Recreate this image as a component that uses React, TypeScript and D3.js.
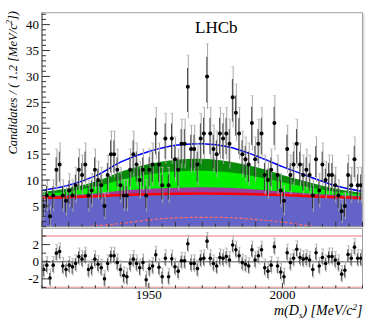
import React, { useEffect, useRef } from 'react'
import * as d3 from 'd3'

// m(Ds) histogram, 1.2 MeV bins from 1910 to 2030
const massRange = [1910, 2030]
const binWidth = 1.2
const counts = [
  5, 7, 3, 7, 12, 13, 7, 6, 8, 7,
  9, 12, 11, 13, 7, 8, 12, 10, 9, 5,
  11, 15, 15, 12, 9, 7, 7, 12, 15, 13,
  10, 12, 7, 12, 13, 19, 13, 9, 18, 9,
  18, 14, 12, 17, 17, 28, 16, 16, 13, 18,
  19, 30, 19, 16, 15, 19, 18, 19, 17, 26,
  23, 19, 15, 14, 13, 21, 14, 17, 19, 11,
  10, 12, 21, 11, 8, 6, 16, 11, 13, 17,
  13, 11, 12, 11, 7, 14, 8, 13, 10, 11,
  11, 9, 7, 4, 5, 11, 9, 14, 9, 9
]
const pulls = [
  -0.9, -0.4, -1.9, -0.4, 1.0, 1.2, -0.5, -0.9, -0.4, -0.6,
  -0.2, 0.6, 0.3, 0.7, -0.9, -0.7, 0.3, -0.3, -0.7, -2.0,
  -0.2, 0.7, 0.7, -0.1, -0.9, -1.6, -1.75, -0.2, 0.3, -0.2,
  -0.7, -0.1, -2.1, -0.8, -0.5, 0.8, -0.65, -1.75, 0.4, -1.75,
  0.35, -0.6, -1.1, 0.1, 0.1, 2.1, -0.2, -0.2, -0.8, 0.3,
  0.4, 2.4, 0.4, -0.2, -0.5, 0.5, 0.4, 0.6, 0.2, 1.95,
  1.4, 0.7, -0.1, -0.3, -0.5, 1.4, 0.2, 0.7, 1.4, -0.7,
  -1.1, -0.4, 1.75, -0.5, -1.2, -1.75, 1.05, -0.1, 0.4, 1.45,
  0.5, 0.3, 0.4, 0.2, -0.9, 1.05, -0.5, 0.5, -0.2, 0.6,
  0.6, 0.2, -0.2, -1.45, -1.0, 0.85, 0.4, 1.7, 0.4, 0.4
]

// fit components read at every 10 MeV
const curveMass = [1910, 1920, 1930, 1940, 1950, 1960, 1970, 1980, 1990, 2000, 2010, 2020, 2030]
const totalFit = [8.0, 9.0, 10.8, 13.6, 15.5, 16.7, 17.0, 16.4, 14.7, 12.6, 10.7, 8.9, 7.8]
const darkGreenTop = [7.7, 8.4, 9.7, 11.7, 13.1, 13.9, 14.1, 13.6, 12.5, 11.0, 9.6, 8.3, 7.5]
const lightGreenTop = [7.3, 7.8, 8.7, 10.1, 11.1, 11.7, 11.8, 11.5, 10.7, 9.6, 8.6, 7.7, 7.2]
const purpleTop = [6.9, 7.1, 7.4, 8.0, 8.3, 8.5, 8.6, 8.5, 8.2, 7.8, 7.4, 7.1, 6.9]
const redTop = [6.6, 6.7, 6.9, 7.1, 7.25, 7.35, 7.4, 7.35, 7.25, 7.1, 6.9, 6.7, 6.5]
const dashMass = [1915, 1920, 1930, 1940, 1950, 1960, 1970, 1980, 1990, 2000, 2010, 2020, 2025]
const dashFit = [0.3, 0.6, 1.15, 1.65, 2.3, 2.7, 2.8, 2.75, 2.4, 1.9, 1.15, 0.5, 0.2]

const yTicks = [5, 10, 15, 20, 25, 30, 35, 40]
const pullTicks = [-2, 0, 2]
const xTickLabels = [1950, 2000]

const serif = "'Liberation Serif', 'Times New Roman', serif"

export default function App() {
  const ref = useRef<SVGSVGElement>(null)

  useEffect(() => {
    const svg = d3.select(ref.current)
    svg.selectAll('*').remove()

    const left = 42, right = 362.5
    const top = 12.7, mainBottom = 226.7
    const pullTop = 228.3, pullBottom = 288.3

    const x = d3.scaleLinear().domain(massRange).range([left, right])
    const y = d3.scaleLinear().domain([1.0, 42.3]).range([mainBottom, top])
    const yp = d3.scaleLinear().domain([-3.1, 3.9]).range([pullBottom, pullTop])

    const defs = svg.append('defs')
    defs.append('clipPath').attr('id', 'clipMain')
      .append('rect').attr('x', left).attr('y', top)
      .attr('width', right - left).attr('height', mainBottom - top)
    defs.append('clipPath').attr('id', 'clipPull')
      .append('rect').attr('x', left).attr('y', pullTop)
      .attr('width', right - left).attr('height', pullBottom - pullTop)

    const main = svg.append('g').attr('clip-path', 'url(#clipMain)')

    const area = (tops: number[]) => d3.area<number>()
      .x((d, i) => x(curveMass[i]))
      .y0(y(0))
      .y1(d => y(d))
      .curve(d3.curveCatmullRom)(tops)
    const line = (mass: number[], vals: number[]) => d3.line<number>()
      .x((d, i) => x(mass[i]))
      .y(d => y(d))
      .curve(d3.curveCatmullRom)(vals)

    main.append('path').attr('d', area(darkGreenTop)).attr('fill', '#0a8a0a')
    main.append('path').attr('d', area(lightGreenTop)).attr('fill', '#00f000')
    main.append('path').attr('d', area(purpleTop)).attr('fill', '#9c3c9c')
    main.append('path').attr('d', area(redTop)).attr('fill', '#6464c8')
    main.append('path').attr('d', line(curveMass, redTop))
      .attr('fill', 'none').attr('stroke', '#ff0000').attr('stroke-width', 2.5)
    main.append('path').attr('d', line(dashMass, dashFit))
      .attr('fill', 'none').attr('stroke', '#ff6a6a').attr('stroke-width', 1.2)
      .attr('stroke-dasharray', '3,2')
    main.append('path').attr('d', line(curveMass, totalFit))
      .attr('fill', 'none').attr('stroke', '#0000ff').attr('stroke-width', 1.5)

    const binCenter = (i: number) => x(massRange[0] + binWidth * (i + 0.5))

    // data points with errors
    const pts = main.append('g')
    counts.forEach((n, i) => {
      const cx = binCenter(i)
      const err = 1.15 * Math.sqrt(n)
      pts.append('line').attr('x1', cx + 0.5).attr('x2', cx + 0.5)
        .attr('y1', y(n - err)).attr('y2', y(n + err))
        .attr('stroke', '#a8a8a8').attr('stroke-width', 1)
      pts.append('line').attr('x1', cx - 1.5).attr('x2', cx + 1.5)
        .attr('y1', y(n + err)).attr('y2', y(n + err))
        .attr('stroke', '#b8b8b8').attr('stroke-width', 0.8)
      pts.append('line').attr('x1', cx - 0.3).attr('x2', cx - 0.3)
        .attr('y1', y(n - err * 0.8)).attr('y2', y(n + err * 0.6))
        .attr('stroke', '#222').attr('stroke-width', 0.8)
      pts.append('circle').attr('cx', cx).attr('cy', y(n)).attr('r', 2).attr('fill', '#000')
    })

    // pull panel
    const pull = svg.append('g').attr('clip-path', 'url(#clipPull)')
    ;[3, -3].forEach(v => {
      pull.append('line').attr('x1', left).attr('x2', right)
        .attr('y1', yp(v)).attr('y2', yp(v))
        .attr('stroke', '#f6b8b8').attr('stroke-width', 2)
    })
    pull.append('line').attr('x1', left).attr('x2', right)
      .attr('y1', yp(0)).attr('y2', yp(0))
      .attr('stroke', '#8a8a8a').attr('stroke-width', 1.5)
    pulls.forEach((p, i) => {
      const cx = binCenter(i)
      pull.append('line').attr('x1', cx + 0.5).attr('x2', cx + 0.5)
        .attr('y1', yp(p - 1)).attr('y2', yp(p + 1))
        .attr('stroke', '#a8a8a8').attr('stroke-width', 1)
      pull.append('line').attr('x1', cx - 1.5).attr('x2', cx + 1.5)
        .attr('y1', yp(p + 1)).attr('y2', yp(p + 1))
        .attr('stroke', '#b8b8b8').attr('stroke-width', 0.8)
      pull.append('line').attr('x1', cx - 0.3).attr('x2', cx - 0.3)
        .attr('y1', yp(p - 0.8)).attr('y2', yp(p + 0.6))
        .attr('stroke', '#222').attr('stroke-width', 0.8)
      pull.append('circle').attr('cx', cx).attr('cy', yp(p)).attr('r', 1.8).attr('fill', '#000')
    })

    // frames
    const frame = (y0: number, y1: number) => {
      svg.append('rect').attr('x', left).attr('y', y0)
        .attr('width', right - left).attr('height', y1 - y0)
        .attr('fill', 'none').attr('stroke', '#a0a0a0').attr('stroke-width', 1)
      svg.append('line').attr('x1', left).attr('x2', left).attr('y1', y0).attr('y2', y1)
        .attr('stroke', '#555').attr('stroke-width', 1)
    }
    frame(top, mainBottom)
    frame(pullTop, pullBottom)
    svg.append('line').attr('x1', right + 1.2).attr('x2', right + 1.2)
      .attr('y1', top + 1).attr('y2', mainBottom).attr('stroke', '#d8d8d8').attr('stroke-width', 1.5)

    const ticks = svg.append('g').attr('stroke', '#333').attr('stroke-width', 1)
    d3.range(1, 43, 1).forEach(v => {
      const len = v % 5 === 0 ? 8 : 4
      ticks.append('line').attr('x1', left).attr('x2', left + len)
        .attr('y1', y(v)).attr('y2', y(v))
    })
    d3.range(-3, 4, 1).forEach(v => {
      const len = v % 2 === 0 ? 8 : 4
      ticks.append('line').attr('x1', left).attr('x2', left + len)
        .attr('y1', yp(v)).attr('y2', yp(v))
    })
    d3.range(1910, 2031, 5).forEach(m => {
      const len = m % 50 === 0 ? 9 : m % 10 === 0 ? 5 : 3
      ticks.append('line').attr('x1', x(m)).attr('x2', x(m))
        .attr('y1', mainBottom).attr('y2', mainBottom - len)
      ticks.append('line').attr('x1', x(m)).attr('x2', x(m))
        .attr('y1', pullBottom).attr('y2', pullBottom - len * 0.6)
    })

    const labels = svg.append('g').attr('font-family', serif).attr('font-size', 13).attr('fill', '#000')
    yTicks.forEach(v => {
      labels.append('text').attr('x', 39).attr('y', y(v)).attr('dy', '0.35em')
        .attr('text-anchor', 'end').text(v)
    })
    pullTicks.forEach(v => {
      labels.append('text').attr('x', 39).attr('y', yp(v)).attr('dy', '0.35em')
        .attr('text-anchor', 'end').text(v)
    })
    xTickLabels.forEach(m => {
      labels.append('text').attr('x', x(m)).attr('y', 299)
        .attr('text-anchor', 'middle').text(m)
    })

    svg.append('text').attr('x', 195).attr('y', 32.7)
      .attr('font-family', serif).attr('font-size', 17).text('LHCb')

    const yt = svg.append('text')
      .attr('transform', 'translate(17,11) rotate(-90)')
      .attr('text-anchor', 'end').attr('font-family', serif)
      .attr('font-style', 'italic').attr('font-size', 12.5)
    yt.append('tspan').text('Candidates / ( 1.2 [MeV/c')
    yt.append('tspan').attr('dy', -5).attr('font-size', 8.5).text('2')
    yt.append('tspan').attr('dy', 5).text('])')

    const xt = svg.append('text').attr('x', 362.5).attr('y', 315)
      .attr('text-anchor', 'end').attr('font-family', serif)
      .attr('font-style', 'italic').attr('font-size', 14)
    xt.append('tspan').text('m(D')
    xt.append('tspan').attr('dy', 3).attr('font-size', 9).text('s')
    xt.append('tspan').attr('dy', -3).text(') [MeV/c')
    xt.append('tspan').attr('dy', -5).attr('font-size', 9).text('2')
    xt.append('tspan').attr('dy', 5).text(']')
  }, [])

  return (
    <svg ref={ref} width={365} height={320}
      style={{ position: 'absolute', left: 0, top: 0, background: '#fff' }} />
  )
}
